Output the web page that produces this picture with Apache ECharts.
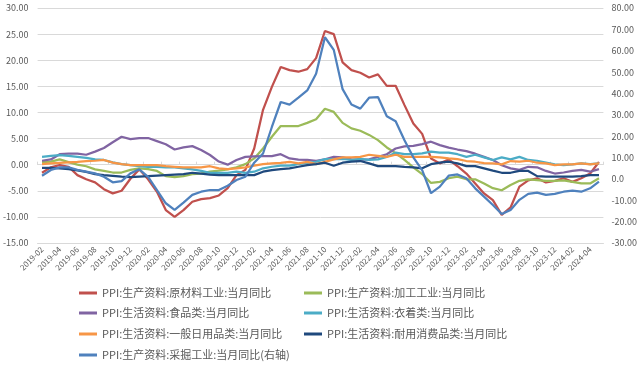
<!DOCTYPE html>
<html>
<head>
<meta charset="utf-8">
<script src="https://cdn.jsdelivr.net/npm/echarts@6/dist/echarts.min.js"></script>
<style>html,body{margin:0;padding:0;background:#fff;}#c{width:640px;height:368px;}</style>
</head>
<body>
<div id="c"></div>
<script>
const months = ['2019-02','2019-03','2019-04','2019-05','2019-06','2019-07','2019-08','2019-09','2019-10','2019-11','2019-12',
'2020-01','2020-02','2020-03','2020-04','2020-05','2020-06','2020-07','2020-08','2020-09','2020-10','2020-11','2020-12',
'2021-01','2021-02','2021-03','2021-04','2021-05','2021-06','2021-07','2021-08','2021-09','2021-10','2021-11','2021-12',
'2022-01','2022-02','2022-03','2022-04','2022-05','2022-06','2022-07','2022-08','2022-09','2022-10','2022-11','2022-12',
'2023-01','2023-02','2023-03','2023-04','2023-05','2023-06','2023-07','2023-08','2023-09','2023-10','2023-11','2023-12',
'2024-01','2024-02','2024-03','2024-04','2024-05'];

const names = ['PPI:生产资料:原材料工业:当月同比','PPI:生产资料:加工工业:当月同比','PPI:生活资料:食品类:当月同比','PPI:生活资料:衣着类:当月同比',
'PPI:生活资料:一般日用品类:当月同比','PPI:生活资料:耐用消费品类:当月同比','PPI:生产资料:采掘工业:当月同比(右轴)'];

const rawMaterial = [-1.55,-0.5,-0.1,-0.4,-2.0,-2.8,-3.4,-4.7,-5.5,-5.0,-2.7,-0.9,-2.8,-5.2,-8.7,-10.0,-8.7,-7.1,-6.6,-6.4,-5.9,-4.5,-2.0,-1.0,3.1,10.5,14.9,18.7,18.1,17.8,18.3,20.4,25.6,25.0,19.6,18.1,17.6,16.7,17.3,15.1,15.1,11.4,7.9,5.9,1.2,0.25,1.0,-0.3,-1.7,-3.6,-5.5,-6.8,-9.6,-8.2,-4.2,-3.0,-2.6,-3.4,-3.1,-2.6,-3.3,-2.6,-1.7,0.5];
const processing = [0.5,0.6,1.0,0.5,0.0,-0.3,-0.9,-1.2,-1.5,-1.5,-1.0,-0.7,-0.85,-1.2,-2.2,-2.4,-2.2,-1.8,-1.7,-1.35,-1.15,-0.9,-0.5,0.1,1.2,3.1,5.35,7.4,7.4,7.4,8.0,8.7,10.7,10.1,8.0,6.95,6.5,5.7,4.7,3.3,2.2,0.9,-0.5,-1.8,-3.5,-3.3,-2.6,-2.3,-2.8,-2.8,-3.6,-4.5,-4.9,-3.9,-3.1,-2.8,-2.95,-3.1,-3.1,-3.0,-3.3,-3.6,-3.6,-2.6];
const food = [0.75,1.0,2.0,2.1,2.1,1.9,2.5,3.2,4.3,5.35,4.9,5.1,5.1,4.5,3.9,2.9,3.3,3.55,2.8,1.85,0.6,0.0,0.9,1.5,1.6,1.65,1.65,2.0,1.2,0.95,0.9,0.75,1.0,1.5,1.4,1.0,0.9,1.0,1.5,2.0,3.1,3.5,3.6,3.95,4.4,3.75,3.25,2.9,2.6,2.1,1.5,0.9,-0.1,-0.7,-1.0,-0.4,-0.5,-1.2,-1.7,-1.5,-1.2,-1.0,-1.35,-0.85];
const clothing = [1.5,1.7,1.85,1.7,1.5,1.3,1.0,0.9,0.45,0.1,-0.1,-0.3,-0.4,-0.4,-0.5,-0.5,-0.7,-0.9,-1.2,-1.55,-1.55,-1.55,-1.35,-1.55,-1.35,-0.7,-0.4,-0.2,-0.2,0.1,0.35,0.55,1.05,1.05,1.1,0.9,1.1,0.9,1.0,1.5,2.3,2.0,2.0,2.15,2.5,2.3,2.3,2.0,1.5,1.9,1.4,0.9,1.4,1.0,1.5,0.9,0.75,0.4,0.05,-0.1,0.05,0.25,0.1,0.25];
const dailyUse = [0.1,0.25,0.35,0.45,0.55,0.7,0.75,0.9,0.4,0.1,-0.1,-0.1,-0.1,-0.1,-0.3,-0.4,-0.5,-0.5,-0.5,-0.3,-0.7,-0.85,-0.7,-0.5,-0.2,0.1,0.25,0.35,0.55,0.25,0.55,0.1,0.55,1.0,1.4,1.4,1.5,1.9,1.7,1.5,1.9,1.5,1.5,1.5,1.5,1.4,1.2,1.05,0.7,0.56,0.3,0.24,0.05,0.7,0.56,0.75,0.37,0.24,-0.08,0.05,0.05,0.25,0.05,0.25];
const durable = [-0.6,-0.6,-0.7,-0.85,-1.1,-1.4,-1.8,-2.0,-2.15,-2.3,-2.4,-2.3,-2.2,-2.1,-2.0,-1.9,-1.8,-1.55,-1.7,-1.9,-2.0,-2.0,-2.0,-2.0,-2.0,-1.35,-1.03,-0.84,-0.7,-0.4,-0.08,0.1,0.37,-0.2,0.37,0.56,0.7,0.24,-0.27,-0.27,-0.27,-0.4,-0.5,-0.7,0.1,0.37,0.56,0.24,-0.27,-0.27,-0.7,-1.15,-1.55,-1.55,-1.2,-1.2,-2.2,-2.3,-2.3,-2.3,-2.3,-2.2,-2.0,-2.0];
const mining = [1.5,4.2,5.4,5.4,4.2,3.4,2.6,1.0,-1.6,-1.0,2.6,4.5,1.0,-5.2,-11.4,-14.5,-11.1,-7.5,-6.0,-5.2,-5.2,-3.2,-0.5,1.0,7.6,11.9,24.3,36.0,34.8,38.0,41.4,49.2,66.3,60.4,42.0,34.8,32.9,38.0,38.3,29.3,27.0,18.1,10.1,4.1,-6.7,-3.6,1.5,2.1,0.3,-4.4,-8.3,-12.2,-16.4,-14.5,-9.8,-7.0,-6.4,-7.5,-7.0,-6.0,-5.5,-6.0,-4.4,-1.3];

const colors = ['#C0504D','#9BBB59','#8064A2','#4BACC6','#F79646','#1F497D','#4F81BD'];
const seriesData = [rawMaterial, processing, food, clothing, dailyUse, durable, mining];

const chart = echarts.init(document.getElementById('c'), null, {renderer:'canvas'});
const font = '"Noto Sans CJK SC", "Noto Sans", sans-serif';
const legendText = {color:'#595959', fontSize:11, fontFamily:font, lineHeight:14};
const legendPos = [[79,286],[304,286],[79,306],[304,306],[79,327],[304,327],[79,348]];

const option = {
  animation:false,
  backgroundColor:'#fff',
  color:colors,
  grid:{left:34, right:33, top:8, bottom:125, containLabel:false},
  legend: names.map((n,i)=>({
    data:[n], left:legendPos[i][0], top:legendPos[i][1], padding:0,
    icon:'rect', itemWidth:18, itemHeight:3, textStyle:legendText
  })),
  xAxis:[
    {type:'category', data:months, boundaryGap:true, position:'bottom',
     axisLine:{onZero:false, lineStyle:{color:'#d9d9d9'}}, axisTick:{show:false},
     axisLabel:{rotate:45, interval:1, color:'#595959', fontSize:8, fontFamily:font, margin:5}},
    {type:'category', data:months, boundaryGap:true, position:'top',
     axisLine:{lineStyle:{color:'#d9d9d9'}}, axisTick:{show:true, interval:1, length:3, lineStyle:{color:'#d9d9d9'}},
     axisLabel:{show:false}}
  ],
  yAxis:[
    {type:'value', min:-15, max:30, interval:5, position:'left',
     axisLine:{show:false}, axisTick:{show:false},
     splitLine:{lineStyle:{color:'#d9d9d9'}},
     axisLabel:{color:'#595959', fontSize:9, fontFamily:font, margin:9, formatter:v=>v.toFixed(2)}},
    {type:'value', min:-30, max:80, interval:10, position:'right',
     axisLine:{show:false}, axisTick:{show:false}, splitLine:{show:false},
     axisLabel:{color:'#595959', fontSize:9, fontFamily:font, margin:8, formatter:v=>v===0?'0.0':v.toFixed(2)}}
  ],
  series: seriesData.map((d,i)=>({
    name:names[i], type:'line', data:d, xAxisIndex:0, yAxisIndex: i===6?1:0,
    showSymbol:false, symbol:'none', smooth:false,
    lineStyle:{width:2.25, color:colors[i]}, itemStyle:{color:colors[i]}
  }))
};
chart.setOption(option);
</script>
</body>
</html>
